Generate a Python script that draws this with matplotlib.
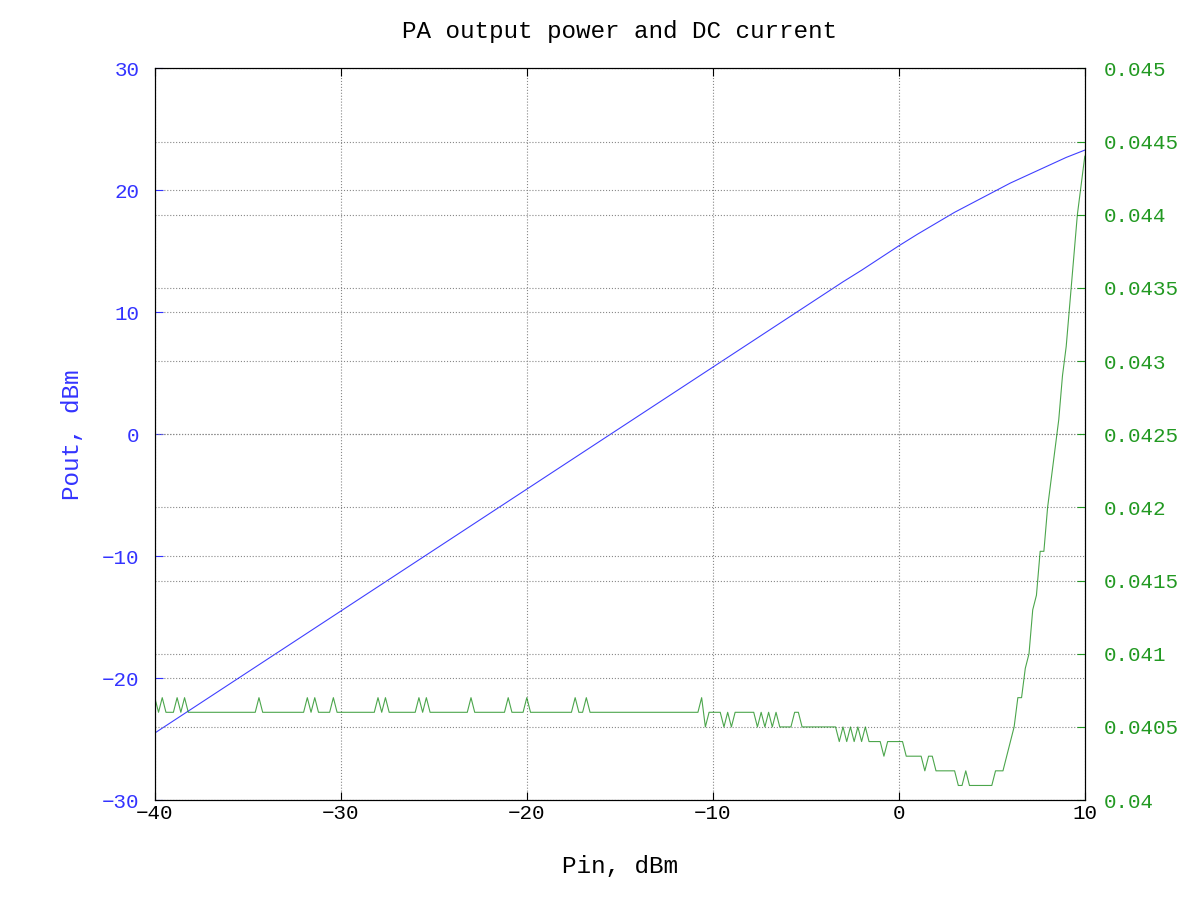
import numpy as np
import matplotlib
matplotlib.use("Agg")
import matplotlib.pyplot as plt

# swept input power, dBm (0.2 dB steps)
pin = np.arange(-40.0, 10.001, 0.2)

# output power read at 1 dB steps
pin_out = list(range(-40, 11))
pout = [-24.5, -23.5, -22.5, -21.5, -20.5, -19.5, -18.5, -17.5, -16.5, -15.5,
        -14.5, -13.5, -12.5, -11.5, -10.5, -9.5, -8.5, -7.5, -6.5, -5.5,
        -4.5, -3.5, -2.5, -1.5, -0.5, 0.5, 1.5, 2.5, 3.5, 4.5,
        5.5, 6.5, 7.5, 8.5, 9.5, 10.5, 11.5, 12.5, 13.45, 14.45,
        15.45, 16.4, 17.3, 18.2, 19.0, 19.8, 20.6, 21.3, 22.0, 22.7, 23.3]

# DC current, mA, one value per pin step
idc_ma = [40.7, 40.6, 40.7, 40.6, 40.6, 40.6, 40.7, 40.6, 40.7, 40.6,   # -40 .. -38.2
          40.6, 40.6, 40.6, 40.6, 40.6, 40.6, 40.6, 40.6, 40.6, 40.6,   # -38 .. -36.2
          40.6, 40.6, 40.6, 40.6, 40.6, 40.6, 40.6, 40.6, 40.7, 40.6,   # -36 .. -34.2
          40.6, 40.6, 40.6, 40.6, 40.6, 40.6, 40.6, 40.6, 40.6, 40.6,   # -34 .. -32.2
          40.6, 40.7, 40.6, 40.7, 40.6, 40.6, 40.6, 40.6, 40.7, 40.6,   # -32 .. -30.2
          40.6, 40.6, 40.6, 40.6, 40.6, 40.6, 40.6, 40.6, 40.6, 40.6,   # -30 .. -28.2
          40.7, 40.6, 40.7, 40.6, 40.6, 40.6, 40.6, 40.6, 40.6, 40.6,   # -28 .. -26.2
          40.6, 40.7, 40.6, 40.7, 40.6, 40.6, 40.6, 40.6, 40.6, 40.6,   # -26 .. -24.2
          40.6, 40.6, 40.6, 40.6, 40.6, 40.7, 40.6, 40.6, 40.6, 40.6,   # -24 .. -22.2
          40.6, 40.6, 40.6, 40.6, 40.6, 40.7, 40.6, 40.6, 40.6, 40.6,   # -22 .. -20.2
          40.7, 40.6, 40.6, 40.6, 40.6, 40.6, 40.6, 40.6, 40.6, 40.6,   # -20 .. -18.2
          40.6, 40.6, 40.6, 40.7, 40.6, 40.6, 40.7, 40.6, 40.6, 40.6,   # -18 .. -16.2
          40.6, 40.6, 40.6, 40.6, 40.6, 40.6, 40.6, 40.6, 40.6, 40.6,   # -16 .. -14.2
          40.6, 40.6, 40.6, 40.6, 40.6, 40.6, 40.6, 40.6, 40.6, 40.6,   # -14 .. -12.2
          40.6, 40.6, 40.6, 40.6, 40.6, 40.6, 40.6, 40.7, 40.5, 40.6,   # -12 .. -10.2
          40.6, 40.6, 40.6, 40.5, 40.6, 40.5, 40.6, 40.6, 40.6, 40.6,   # -10 .. -8.2
          40.6, 40.6, 40.5, 40.6, 40.5, 40.6, 40.5, 40.6, 40.5, 40.5,   # -8 .. -6.2
          40.5, 40.5, 40.6, 40.6, 40.5, 40.5, 40.5, 40.5, 40.5, 40.5,   # -6 .. -4.2
          40.5, 40.5, 40.5, 40.5, 40.4, 40.5, 40.4, 40.5, 40.4, 40.5,   # -4 .. -2.2
          40.4, 40.5, 40.4, 40.4, 40.4, 40.4, 40.3, 40.4, 40.4, 40.4,   # -2 .. -0.2
          40.4, 40.4, 40.3, 40.3, 40.3, 40.3, 40.3, 40.2, 40.3, 40.3,   #  0 .. 1.8
          40.2, 40.2, 40.2, 40.2, 40.2, 40.2, 40.1, 40.1, 40.2, 40.1,   #  2 .. 3.8
          40.1, 40.1, 40.1, 40.1, 40.1, 40.1, 40.2, 40.2, 40.2, 40.3,   #  4 .. 5.8
          40.4, 40.5, 40.7, 40.7, 40.9, 41.0, 41.3, 41.4, 41.7, 41.7,   #  6 .. 7.8
          42.0, 42.2, 42.4, 42.6, 42.9, 43.1, 43.4, 43.7, 44.0, 44.2,   #  8 .. 9.8
          44.4]                                                         # 10
idc = np.array(idc_ma) / 1000.0

right_ticks = [0.04, 0.0405, 0.041, 0.0415, 0.042, 0.0425,
               0.043, 0.0435, 0.044, 0.0445, 0.045]
right_labels = ['0.04', '0.0405', '0.041', '0.0415', '0.042', '0.0425',
                '0.043', '0.0435', '0.044', '0.0445', '0.045']
left_ticks = [-30, -20, -10, 0, 10, 20, 30]
x_ticks = [-40, -30, -20, -10, 0, 10]

plt.rcParams['font.family'] = ['Liberation Mono', 'DejaVu Sans Mono']

fig = plt.figure(figsize=(12, 9), dpi=100)
ax = fig.add_axes([0.129, 0.111, 0.775, 0.813])
ax2 = ax.twinx()

ax.plot(pin_out, pout, color='#0000ff', lw=0.8, alpha=0.75)
ax2.plot(pin, idc, color='#008000', lw=0.8, alpha=0.7)

ax.set_xlim(-40, 10)
ax.set_ylim(-30, 30)
ax2.set_ylim(0.04, 0.045)
ax.set_xticks(x_ticks)
ax.set_yticks(left_ticks)
ax2.set_yticks(right_ticks)
ax2.set_yticklabels(right_labels)

blue = '#3333ff'
green = '#229922'
ax.tick_params(axis='y', colors=blue, labelsize=15, direction='in', length=6, pad=11)
ax.tick_params(axis='x', labelsize=15, direction='in', length=6, top=True, pad=3)
ax2.tick_params(axis='y', colors=green, labelsize=15, direction='in', length=6, pad=14)
for a in (ax, ax2):
    for s in a.spines.values():
        s.set_color('black')
        s.set_linewidth(0.8)

ax.grid(True, linestyle=':', color='#888888', linewidth=0.8)
ax2.grid(True, axis='y', linestyle=':', color='#888888', linewidth=0.8)

ax.set_xlabel('Pin, dBm', fontsize=17.5, labelpad=23)
ax.set_ylabel('Pout, dBm', fontsize=17.5, color=blue, labelpad=13)
ax.set_title('PA output power and DC current', fontsize=17.5, pad=22)

fig.savefig('out.png', dpi=100)
